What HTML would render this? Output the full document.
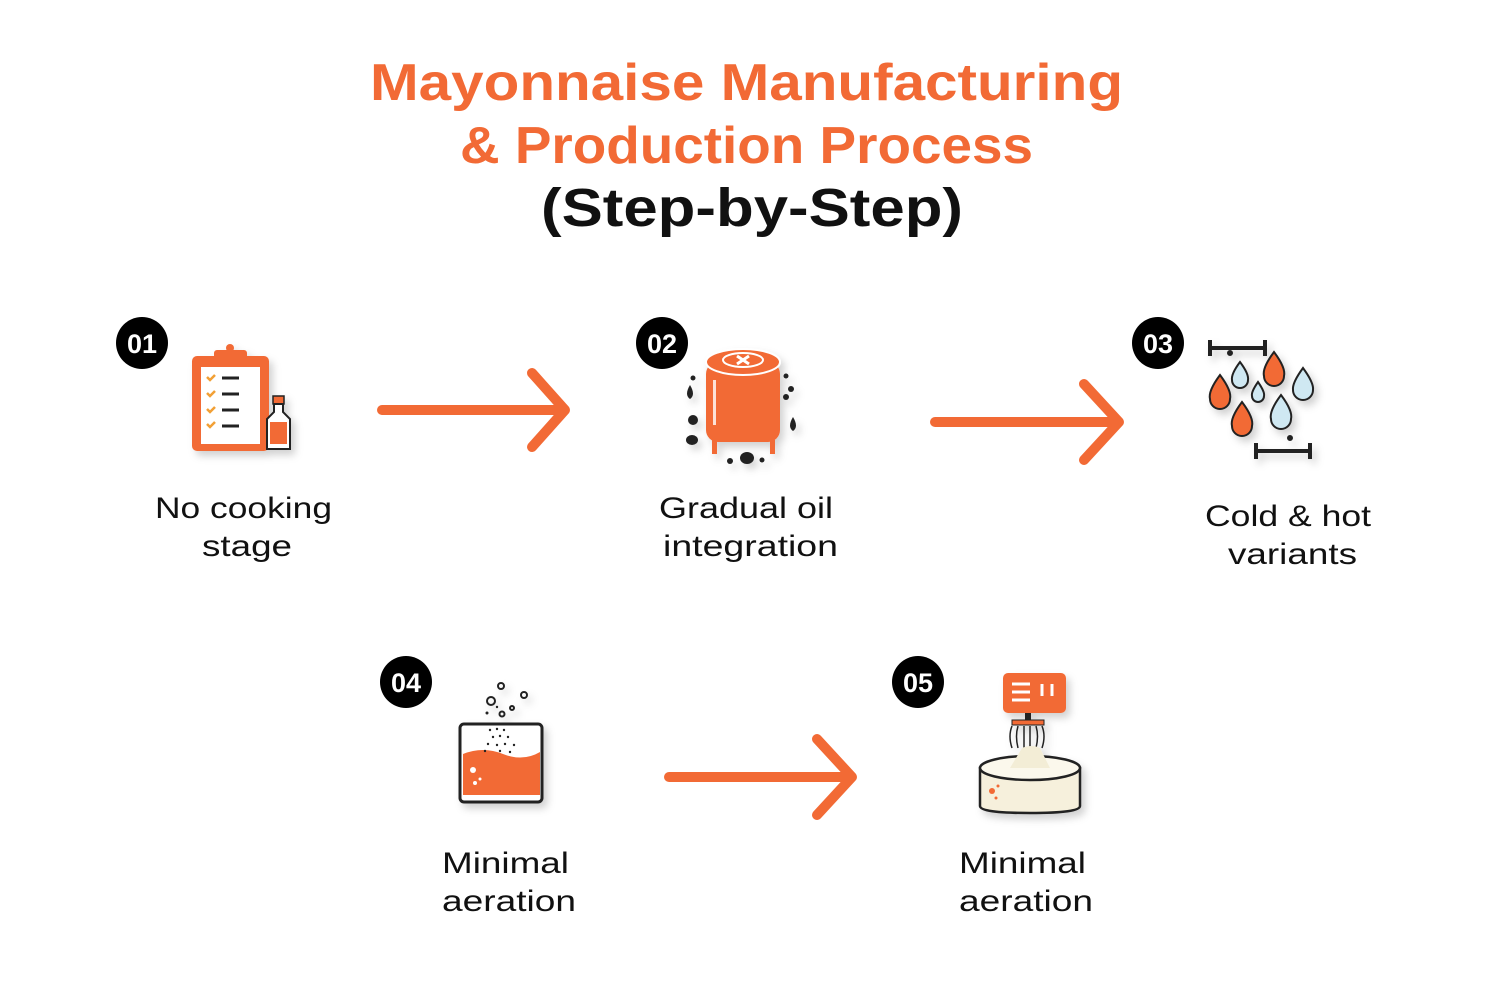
<!DOCTYPE html>
<html><head><meta charset="utf-8"><style>
html,body{margin:0;padding:0;background:#fff;}
svg{display:block}
.t{font-family:"Liberation Sans",sans-serif;font-weight:bold;}
.l{font-family:"Liberation Sans",sans-serif;font-size:30px;fill:#111;}
.b{font-family:"Liberation Sans",sans-serif;font-weight:bold;font-size:27px;fill:#fff;text-anchor:middle;}
</style></head><body>
<svg width="1500" height="1000" viewBox="0 0 1500 1000" xmlns="http://www.w3.org/2000/svg">
<defs><filter id="sh" x="-20%" y="-20%" width="150%" height="150%"><feDropShadow dx="4" dy="5" stdDeviation="4" flood-color="#000" flood-opacity="0.18"/></filter></defs>
<text class="t" x="370" y="100" font-size="52" fill="#f26a35" textLength="753" lengthAdjust="spacingAndGlyphs">Mayonnaise Manufacturing</text>
<text class="t" x="460" y="163" font-size="52" fill="#f26a35" textLength="573" lengthAdjust="spacingAndGlyphs">&amp; Production Process</text>
<text class="t" x="541" y="226" font-size="54" fill="#111" textLength="422" lengthAdjust="spacingAndGlyphs">(Step-by-Step)</text>

<g>
<circle cx="142" cy="343" r="26" fill="#000"/><text class="b" x="142" y="353">01</text>
<circle cx="662" cy="343" r="26" fill="#000"/><text class="b" x="662" y="353">02</text>
<circle cx="1158" cy="343" r="26" fill="#000"/><text class="b" x="1158" y="353">03</text>
<circle cx="406" cy="682" r="26" fill="#000"/><text class="b" x="406" y="692">04</text>
<circle cx="918" cy="682" r="26" fill="#000"/><text class="b" x="918" y="692">05</text>
</g>

<g stroke="#f26a35" stroke-width="10" stroke-linecap="round" fill="none" stroke-linejoin="round">
<path d="M382 410H563M532 373L565 410L532 447"/>
<path d="M935 422H1117M1084 384L1119 422L1084 460"/>
<path d="M669 777H850M817 739L852 777L817 815"/>
</g>

<g filter="url(#sh)">
<rect x="192" y="356" width="77" height="95" rx="5" fill="#f26a35"/>
<rect x="201" y="367" width="59" height="77" fill="#fff"/>
<rect x="214" y="350" width="33" height="14" rx="3" fill="#f26a35"/>
<circle cx="230" cy="348" r="4" fill="#f26a35"/>
<g stroke="#f2a035" stroke-width="2.5" fill="none">
<path d="M207 377l3 3 5-5M207 393l3 3 5-5M207 409l3 3 5-5M207 424l3 3 5-5"/></g>
<g stroke="#222" stroke-width="3"><path d="M222 378h17M222 394h17M222 410h17M222 426h17"/></g>
<rect x="273" y="396" width="11" height="8" fill="#f26a35" stroke="#222" stroke-width="1.5"/>
<path d="M274 404h9v8l7 7v30h-23v-30l7-7z" fill="#fff" stroke="#222" stroke-width="2"/>
<rect x="270" y="422" width="17" height="22" fill="#f26a35"/>
</g>

<g filter="url(#sh)">
<rect x="706" y="362" width="74" height="80" rx="12" fill="#f26a35"/>
<ellipse cx="743" cy="362" rx="37" ry="13" fill="#f26a35" stroke="#fff" stroke-width="2"/>
<ellipse cx="743" cy="360" rx="20" ry="7" fill="none" stroke="#fff" stroke-width="2"/>
<path d="M737 356l12 8M749 356l-12 8" stroke="#fff" stroke-width="3"/>
<rect x="713" y="380" width="3" height="45" fill="#fff" opacity="0.8"/>
<rect x="712" y="440" width="5" height="14" fill="#f26a35"/><rect x="770" y="440" width="5" height="14" fill="#f26a35"/>
<g fill="#222">
<path d="M690 385q-6 10 0 14q6-4 0-14z"/><path d="M793 417q-6 10 0 14q6-4 0-14z"/>
<circle cx="693" cy="420" r="5"/><circle cx="693" cy="378" r="2.5"/><circle cx="786" cy="376" r="2.5"/><circle cx="791" cy="389" r="3"/><circle cx="786" cy="397" r="3"/>
<ellipse cx="692" cy="440" rx="6" ry="5"/><ellipse cx="747" cy="458" rx="7" ry="6"/><circle cx="730" cy="461" r="3"/><circle cx="762" cy="460" r="2.5"/>
</g>
</g>

<g filter="url(#sh)" stroke="#222" stroke-width="2">
<path d="M1210 340v16M1210 348h55M1265 340v16" stroke-width="4" fill="none"/>
<path d="M1256 443v16M1256 451h55M1310 443v16" stroke-width="4" fill="none"/>
<circle cx="1230" cy="353" r="2" fill="#222"/><circle cx="1290" cy="438" r="2" fill="#222"/>
<path d="M1274 352q-12 16-10 24a10 10 0 0 0 20 0q2-8-10-24z" fill="#f26a35"/>
<path d="M1220 375q-12 16-10 24a10 10 0 0 0 20 0q2-8-10-24z" fill="#f26a35"/>
<path d="M1242 402q-12 16-10 24a10 10 0 0 0 20 0q2-8-10-24z" fill="#f26a35"/>
<path d="M1240 362q-9 12-8 18a8 8 0 0 0 16 0q1-6-8-18z" fill="#cfe8f2"/>
<path d="M1258 382q-7 10-6 14a6 6 0 0 0 12 0q1-4-6-14z" fill="#cfe8f2"/>
<path d="M1303 368q-11 15-10 22a10 10 0 0 0 20 0q1-7-10-22z" fill="#cfe8f2"/>
<path d="M1281 395q-12 16-10 24a10 10 0 0 0 20 0q2-8-10-24z" fill="#cfe8f2"/>
</g>

<g filter="url(#sh)">
<rect x="460" y="724" width="82" height="78" rx="4" fill="#fff" stroke="#222" stroke-width="3"/>
<path d="M463 754q20-8 40 0t37-2v43h-77z" fill="#f26a35"/>
<circle cx="473" cy="770" r="3" fill="#fff"/><circle cx="480" cy="779" r="1.5" fill="#fff"/><circle cx="475" cy="783" r="2" fill="#fff"/>
<g fill="none" stroke="#222" stroke-width="2"><circle cx="501" cy="686" r="3"/><circle cx="491" cy="701" r="4"/><circle cx="524" cy="695" r="3"/><circle cx="502" cy="714" r="2.5"/><circle cx="512" cy="708" r="2"/></g>
<g fill="#222"><circle cx="487" cy="713" r="1.5"/><circle cx="497" cy="707" r="1.2"/>
<circle cx="490" cy="730" r="1.2"/><circle cx="497" cy="729" r="1.2"/><circle cx="504" cy="730" r="1.2"/><circle cx="493" cy="737" r="1.2"/><circle cx="500" cy="736" r="1.2"/><circle cx="508" cy="737" r="1.2"/><circle cx="488" cy="744" r="1.2"/><circle cx="497" cy="745" r="1.2"/><circle cx="505" cy="744" r="1.2"/><circle cx="514" cy="745" r="1.2"/><circle cx="485" cy="751" r="1.2"/><circle cx="500" cy="751" r="1.2"/><circle cx="510" cy="752" r="1.2"/></g>
</g>

<g filter="url(#sh)">
<rect x="1003" y="673" width="63" height="40" rx="5" fill="#f26a35"/>
<g stroke="#fff" stroke-width="3"><path d="M1012 684h18M1012 692h18M1012 700h18"/><path d="M1042 684v12M1052 684v12"/></g>
<rect x="1025" y="713" width="6" height="8" fill="#222"/>
<rect x="1012" y="720" width="32" height="5" fill="#f26a35" stroke="#222" stroke-width="1"/>
<g stroke="#222" stroke-width="1.5" fill="none"><path d="M1012 726q-4 10 0 22M1018 726q-3 10 0 22M1024 726v22M1030 726v22M1036 726q3 10 0 22M1042 726q4 10 0 22"/></g>
<path d="M980 768v38q0 7 50 7t50-7v-38z" fill="#f6f0dc" stroke="#222" stroke-width="2.5"/>
<ellipse cx="1030" cy="768" rx="50" ry="12" fill="#fbf8ec" stroke="#222" stroke-width="2.5"/>
<path d="M1022 748q10-4 18 0l10 20h-40z" fill="#f3edd6"/>
<circle cx="992" cy="791" r="3" fill="#f26a35"/><circle cx="998" cy="786" r="1.5" fill="#f26a35"/><circle cx="996" cy="798" r="1.5" fill="#f26a35"/>
</g>

<text class="l" x="155" y="518" textLength="177" lengthAdjust="spacingAndGlyphs">No cooking</text>
<text class="l" x="202" y="556" textLength="90" lengthAdjust="spacingAndGlyphs">stage</text>
<text class="l" x="659" y="518" textLength="174" lengthAdjust="spacingAndGlyphs">Gradual oil</text>
<text class="l" x="663" y="556" textLength="175" lengthAdjust="spacingAndGlyphs">integration</text>
<text class="l" x="1205" y="526" textLength="166" lengthAdjust="spacingAndGlyphs">Cold &amp; hot</text>
<text class="l" x="1228" y="564" textLength="129" lengthAdjust="spacingAndGlyphs">variants</text>
<text class="l" x="442" y="873" textLength="127" lengthAdjust="spacingAndGlyphs">Minimal</text>
<text class="l" x="442" y="911" textLength="134" lengthAdjust="spacingAndGlyphs">aeration</text>
<text class="l" x="959" y="873" textLength="127" lengthAdjust="spacingAndGlyphs">Minimal</text>
<text class="l" x="959" y="911" textLength="134" lengthAdjust="spacingAndGlyphs">aeration</text>
</svg>
</body></html>
